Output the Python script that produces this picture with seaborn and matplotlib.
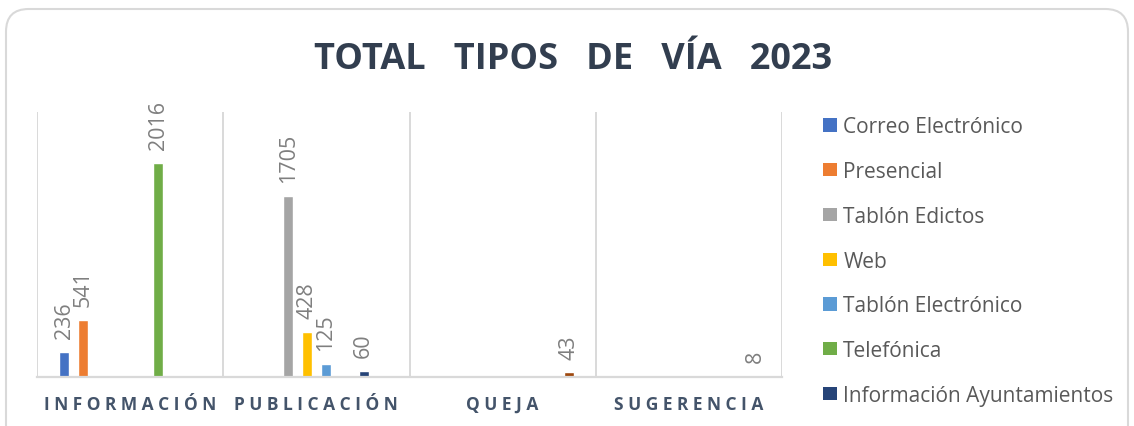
import pandas as pd
import matplotlib
matplotlib.use('Agg')
import matplotlib.pyplot as plt
import seaborn as sns
from matplotlib.patches import FancyBboxPatch, Patch

# Dados do gráfico
categorias = ['INFORMACIÓN', 'PUBLICACIÓN', 'QUEJA', 'SUGERENCIA']
series = ['Correo Electrónico', 'Presencial', 'Tablón Edictos', 'Web',
          'Tablón Electrónico', 'Telefónica', 'Información Ayuntamientos', 'Otros']
cores = ['#4472C4', '#ED7D31', '#A5A5A5', '#FFC000',
         '#5B9BD5', '#70AD47', '#264478', '#9E480E']

correo = [236, None, None, None]
presencial = [541, None, None, None]
tablon_edictos = [None, 1705, None, None]
web = [None, 428, None, None]
tablon_electronico = [None, 125, None, None]
telefonica = [2016, None, None, None]
info_ayuntamientos = [None, 60, None, None]
otros = [None, None, 43, 8]

valores = [correo, presencial, tablon_edictos, web,
           tablon_electronico, telefonica, info_ayuntamientos, otros]

linhas = []
for nome, vals in zip(series, valores):
    for cat, v in zip(categorias, vals):
        if v is not None:
            linhas.append({'Tipo': cat, 'Vía': nome, 'Total': v})
df = pd.DataFrame(linhas)

sns.set_style('white')
plt.rcParams['font.family'] = ['Open Sans', 'DejaVu Sans']

fig = plt.figure(figsize=(11.34, 4.27), dpi=100)
ax = fig.add_axes([37 / 1134, 49 / 427, 745 / 1134, 265 / 427])

sns.barplot(data=df, x='Tipo', y='Total', hue='Vía', order=categorias,
            hue_order=series, palette=cores, saturation=1, width=0.81, gap=0.47,
            dodge=True, legend=False, ax=ax)

# Rótulos de dados
for cont in ax.containers:
    for barra in cont:
        h = barra.get_height()
        if h and h > 0:
            ax.annotate(f'{int(h)}', (barra.get_x() + barra.get_width() / 2, h),
                        xytext=(0, 10), textcoords='offset points',
                        rotation=90, ha='center', va='bottom',
                        fontsize=15.5, color='#7F7F7F')

ax.set_xlim(-0.5, 3.5)
ax.set_ylim(0, 2500)
for x in [-0.5, 0.5, 1.5, 2.5, 3.5]:
    ax.axvline(x, color='#D9D9D9', lw=1.4, zorder=0)
for lado in ['top', 'left', 'right']:
    ax.spines[lado].set_visible(False)
ax.spines['bottom'].set_color('#D9D9D9')
ax.spines['bottom'].set_linewidth(1.6)
ax.set_yticks([])
ax.set_xlabel('')
ax.set_ylabel('')
ax.set_xticks(range(len(categorias)))
ax.set_xticklabels([' '.join(c) for c in categorias], fontsize=12.5,
                   fontweight='bold', color='#44546A')
ax.tick_params(axis='x', length=0, pad=13)

# Título
fig.text(573 / 1134, 1 - 69 / 427, 'TOTAL   TIPOS   DE   VÍA   2023', ha='center', va='baseline',
         fontsize=26, fontweight='bold', color='#323E4F')

# Legenda (só as 7 primeiras séries aparecem)
handles = [Patch(facecolor=c, edgecolor='none') for c in cores[:7]]
fig.legend(handles, series[:7], loc='upper left', bbox_to_anchor=(813 / 1134, 1 - 107 / 427),
           frameon=False, fontsize=15, labelcolor='#595959', handlelength=0.65,
           handleheight=0.6, handletextpad=0.3, labelspacing=1.14, borderpad=0)

# Moldura arredondada
moldura = FancyBboxPatch((6 / 1134, -0.05), 1122 / 1134, 1.0 - 10 / 427 + 0.05,
                         boxstyle='round,pad=0,rounding_size=0.02',
                         transform=fig.transFigure, fill=False,
                         edgecolor='#D9D9D9', lw=1.5, mutation_aspect=1134 / 427)
fig.patches.append(moldura)

fig.savefig('out.png', dpi=100)
